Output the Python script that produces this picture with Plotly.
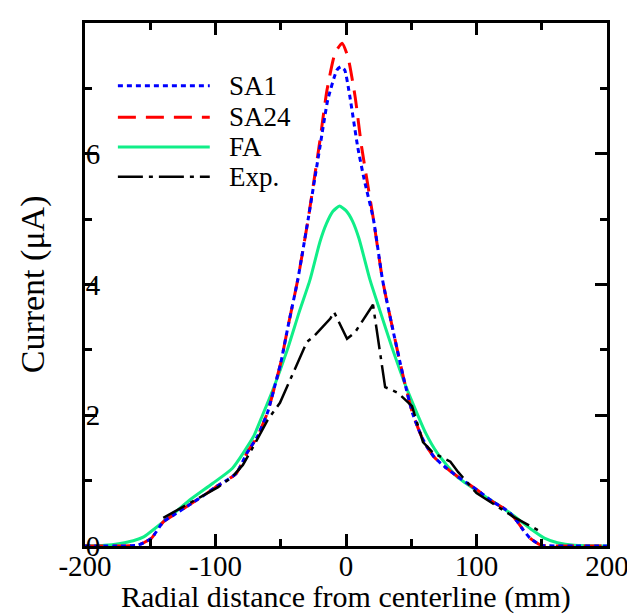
import plotly.graph_objects as go

# ---- data ----
sa1_x = [-200, -175, -160, -155, -149, -140, -130, -120, -110, -100, -91, -84, -76, -68, -60, -54,
         -50, -44, -37, -29, -20, -14, -7, -4, -1, 3, 9, 14, 21, 28, 36, 44, 51, 58, 62, 68, 77,
         85, 93, 103, 113, 120, 126, 131, 136, 141, 146, 150, 160, 175, 200]
sa1_y = [0, 0, 0.01, 0.05, 0.12, 0.37, 0.50, 0.63, 0.76, 0.90, 1.01, 1.11, 1.42, 1.67, 2.05, 2.49,
         2.80, 3.40, 4.07, 5.00, 6.10, 6.82, 7.28, 7.33, 7.28, 6.87, 6.10, 5.60, 5.00, 4.07, 3.30,
         2.58, 2.03, 1.67, 1.52, 1.35, 1.19, 1.07, 0.96, 0.82, 0.67, 0.59, 0.50, 0.38, 0.24, 0.12,
         0.05, 0.01, 0, 0, 0]

sa24_x = [-200, -175, -160, -155, -149, -140, -130, -120, -110, -100, -91, -84, -76, -68, -60, -54,
          -50, -44, -37, -29, -20, -14.6, -8.4, -3, 1.5, 7, 12, 21, 28, 36, 44, 51, 58, 62, 68, 77,
          85, 93, 103, 113, 120, 126, 131, 136, 141, 146, 150, 160, 175, 200]
sa24_y = [0, 0, 0.01, 0.05, 0.12, 0.37, 0.50, 0.63, 0.76, 0.90, 1.01, 1.11, 1.42, 1.67, 2.05, 2.49,
          2.80, 3.40, 4.07, 5.00, 6.20, 6.97, 7.54, 7.69, 7.48, 6.87, 6.10, 5.00, 4.07, 3.30,
          2.58, 2.03, 1.67, 1.52, 1.35, 1.19, 1.07, 0.96, 0.82, 0.67, 0.59, 0.50, 0.38, 0.24, 0.12,
          0.05, 0.01, 0, 0, 0]

fa_x = [-200, -185, -173, -163, -155, -140, -130, -120, -102, -87, -71, -64, -56, -45, -36, -27.6,
        -20, -15, -10, -5, 0, 5, 10, 18.4, 26, 35, 46.7, 61, 70, 85, 105, 126, 143, 152, 162, 175, 200]
fa_y = [0, 0.01, 0.04, 0.08, 0.14, 0.37, 0.53, 0.70, 0.96, 1.19, 1.67, 2.00, 2.39, 3.00, 3.57, 4.07,
        4.65, 4.93, 5.12, 5.20, 5.13, 4.97, 4.70, 4.07, 3.60, 3.05, 2.40, 1.73, 1.42, 1.06, 0.78,
        0.50, 0.24, 0.12, 0.05, 0.01, 0]

exp_x = [-140, -120, -98, -87, -79, -71, -60, -50.6, -30, -25, -12, -9.2, 0.8, 7, 20.7, 30, 40,
         50.6, 59, 67, 80, 86, 100, 118, 128, 151]
exp_y = [0.43, 0.66, 0.90, 1.06, 1.24, 1.52, 1.93, 2.19, 3.12, 3.20, 3.48, 3.58, 3.17, 3.27, 3.69,
         2.43, 2.34, 2.14, 1.59, 1.42, 1.29, 1.13, 0.81, 0.58, 0.45, 0.20]

x_ticks = [-200, -100, 0, 100, 200]
x_tick_text = ["-200", "-100", "0", "100", "200"]
y_ticks = [0, 2, 4, 6, 8]
y_tick_text = ["0", "2", "4", "6", "8"]

series_names = ["SA1", "SA24", "FA", "Exp."]
x_title = "Radial distance from centerline (mm)"
y_title = "Current (μA)"

FONT = "Liberation Serif"
BLUE, RED, GREEN, BLACK = "#0000FF", "#FF0000", "#10EE88", "#000000"
DASH_SA1 = "5px,4px"
DASH_SA24 = "18px,10px"
DASH_EXP = "25px,6px,4px,6px"

fig = go.Figure()
fig.add_trace(go.Scatter(x=fa_x, y=fa_y, mode="lines", name=series_names[2],
                         line=dict(color=GREEN, width=3, shape="spline", smoothing=0.5)))
fig.add_trace(go.Scatter(x=sa24_x, y=sa24_y, mode="lines", name=series_names[1],
                         line=dict(color=RED, width=3, dash=DASH_SA24, shape="spline", smoothing=0.5)))
fig.add_trace(go.Scatter(x=sa1_x, y=sa1_y, mode="lines", name=series_names[0],
                         line=dict(color=BLUE, width=3, dash=DASH_SA1, shape="spline", smoothing=0.5)))
fig.add_trace(go.Scatter(x=exp_x, y=exp_y, mode="lines", name=series_names[3],
                         line=dict(color=BLACK, width=2.5, dash=DASH_EXP)))

# manual legend (line samples + labels)
leg_rows = [0.880, 0.820, 0.763, 0.706]
leg_styles = [(BLUE, DASH_SA1), (RED, DASH_SA24), (GREEN, "solid"), (BLACK, DASH_EXP)]
for name, yy, (col, dsh) in zip(series_names, leg_rows, leg_styles):
    fig.add_shape(type="line", xref="paper", yref="paper", x0=0.063, x1=0.239, y0=yy, y1=yy,
                  line=dict(color=col, width=3 if col != BLACK else 2.5, dash=dsh))
    fig.add_annotation(xref="paper", yref="paper", x=0.272, y=yy, text=name, showarrow=False,
                       xanchor="left", yanchor="middle", font=dict(family=FONT, size=27, color="black"))

# axis titles as annotations for exact placement
fig.add_annotation(xref="paper", yref="paper", x=0.5, y=-0.097, text=x_title, showarrow=False,
                   xanchor="center", yanchor="middle", font=dict(family=FONT, size=30, color="black"))
fig.add_annotation(xref="paper", yref="paper", x=-0.10, y=0.5, text=y_title, showarrow=False,
                   textangle=-90, xanchor="center", yanchor="middle",
                   font=dict(family=FONT, size=34, color="black"))

axis_common = dict(showline=True, linecolor="black", linewidth=3, mirror="allticks",
                   ticks="inside", ticklen=12, tickwidth=2.5, tickcolor="black",
                   showgrid=False, zeroline=False, automargin=False,
                   tickfont=dict(family=FONT, size=29, color="black"))

fig.update_xaxes(range=[-200, 200], tickvals=x_ticks, ticktext=x_tick_text, ticklabelstandoff=-8,
                 minor=dict(ticks="inside", ticklen=7, tickwidth=2.5, tickcolor="black", dtick=50, tick0=0),
                 **axis_common)
fig.update_yaxes(range=[0, 8], tickvals=y_ticks, ticktext=y_tick_text, ticklabelstandoff=-24,
                 minor=dict(ticks="inside", ticklen=7, tickwidth=2.5, tickcolor="black", dtick=1, tick0=0),
                 **axis_common)

# page body has an 8px margin, so the figure is sized to fit the 635x615 window
fig.update_layout(width=627, height=607, margin=dict(l=77, r=28, t=15, b=69),
                  paper_bgcolor="white", plot_bgcolor="white", showlegend=False)

fig.write_html("out.html")
